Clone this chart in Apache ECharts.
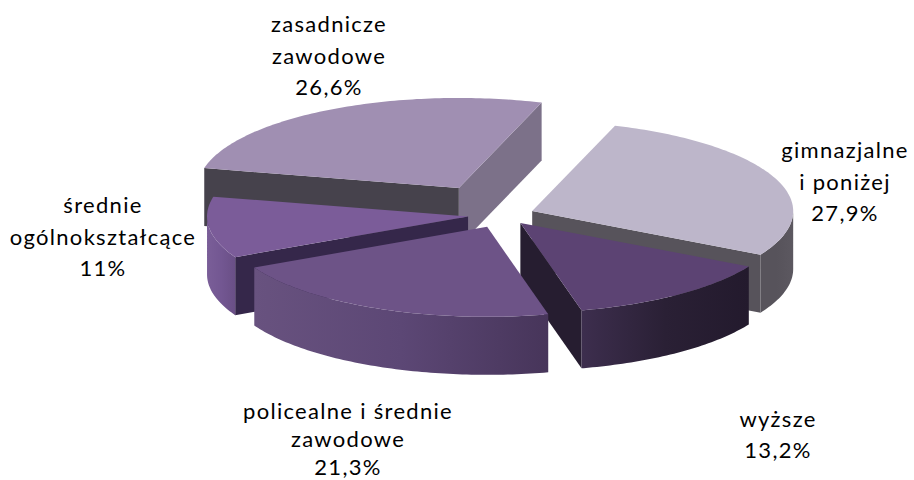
<!DOCTYPE html>
<html>
<head>
<meta charset="utf-8">
<style>html,body{margin:0;padding:0;background:#fff}#c{width:914px;height:480px}#c svg text{letter-spacing:1.3px}</style>
<script src="https://cdn.jsdelivr.net/npm/echarts@6/dist/echarts.min.js"></script>
</head>
<body>
<div id="c"></div>
<script>
// Data
var categories = ['gimnazjalne\ni poniżej', 'wyższe', 'policealne i średnie\nzawodowe', 'średnie\nogólnokształcące', 'zasadnicze\nzawodowe'];
var shares = [27.9, 13.2, 21.3, 11, 26.6];

// Layout and style
var explode = [0.12, 0.11, 0.145, 0.135, 0.345];
var paintOrder = [4, 0, 1, 3, 2];
var labelCentres = [[845, 181], [778, 434], [348, 438], [103, 236], [329, 55]];
var labelLeading = [31.5, 31.5, 28, 31.5, 31.5];
var topColors = ['#BDB6CA', '#5C4373', '#6D5387', '#7B5C99', '#A08FB2'];
var startWall = ['#57535B', '#261D30', '#47355A', '#35274A', '#46424C'];
var endWall = ['#57535B', '#261D30', '#47355A', '#35274A', '#7C7189'];
var arcStops = [
  ['#57535B', '#57535B', '#5C5860'],
  ['#3D2E4E', '#2A2035', '#231A2D'],
  ['#68527F', '#5C4775', '#47355A'],
  ['#7A5E98', '#735792', '#6A4F86'],
  ['#46424C', '#46424C', '#46424C']
];
var CX = 503, CY = 215, RX = 261, RY = 90, DEPTH = 58, FIRST_ANGLE = 18.5;

var total = shares.reduce(function (a, b) { return a + b; }, 0);
var spans = [];
shares.reduce(function (acc, v) {
  var next = acc + v / total * 360;
  spans.push([acc, next]);
  return next;
}, FIRST_ANGLE);

function rim(ax, ay, deg) {
  var r = deg * Math.PI / 180;
  return [ax + RX * Math.sin(r), ay - RY * Math.cos(r)];
}
function down(p) { return [p[0], p[1] + DEPTH]; }

function renderSlice(params, api) {
  var i = api.value(0), a = spans[i][0], b = spans[i][1];
  var mid = (a + b) / 2 * Math.PI / 180;
  var ax = CX + explode[i] * RX * Math.sin(mid);
  var ay = CY - explode[i] * RY * Math.cos(mid);
  var apex = [ax, ay], children = [];

  // radial walls
  if (Math.sin(b * Math.PI / 180) > 0) {
    var pe = rim(ax, ay, b);
    children.push({ type: 'polygon', shape: { points: [apex, pe, down(pe), down(apex)] }, style: { fill: endWall[i] } });
  }
  if (Math.sin(a * Math.PI / 180) < 0) {
    var ps = rim(ax, ay, a);
    children.push({ type: 'polygon', shape: { points: [apex, ps, down(ps), down(apex)] }, style: { fill: startWall[i] } });
  }
  // outer curved wall, the part that faces the viewer
  var from = Math.max(a, 90), to = Math.min(b, 270);
  if (to > from) {
    var upper = [], lower = [];
    for (var d = from; d <= to; d += 1) { var p = rim(ax, ay, d); upper.push(p); lower.unshift(down(p)); }
    var pt = rim(ax, ay, to); upper.push(pt); lower.unshift(down(pt));
    children.push({
      type: 'polygon', shape: { points: upper.concat(lower) },
      style: { fill: { type: 'linear', x: 0, y: 0, x2: 1, y2: 0, colorStops: [
        { offset: 0, color: arcStops[i][0] }, { offset: 0.5, color: arcStops[i][1] }, { offset: 1, color: arcStops[i][2] }] } }
    });
  }
  // top face
  var pts = [apex];
  for (var k = a; k < b; k += 1) pts.push(rim(ax, ay, k));
  pts.push(rim(ax, ay, b));
  children.push({ type: 'polygon', shape: { points: pts }, style: { fill: topColors[i] } });
  return { type: 'group', children: children };
}

function labelText(i) {
  return categories[i] + '\n' + String(shares[i]).replace('.', ',') + '%';
}

var chart = echarts.init(document.getElementById('c'), null, { renderer: 'svg' });
chart.setOption({
  animation: false,
  series: [{
    type: 'custom',
    coordinateSystem: 'none',
    silent: true,
    renderItem: renderSlice,
    data: paintOrder.map(function (i) { return [i]; })
  }],
  graphic: categories.map(function (c, i) {
    return {
      type: 'text', x: labelCentres[i][0], y: labelCentres[i][1], silent: true,
      style: {
        text: labelText(i), fill: '#000', align: 'center', verticalAlign: 'middle',
        font: '22px Lato, "Open Sans", sans-serif', lineHeight: labelLeading[i]
      }
    };
  })
});
</script>
</body>
</html>
